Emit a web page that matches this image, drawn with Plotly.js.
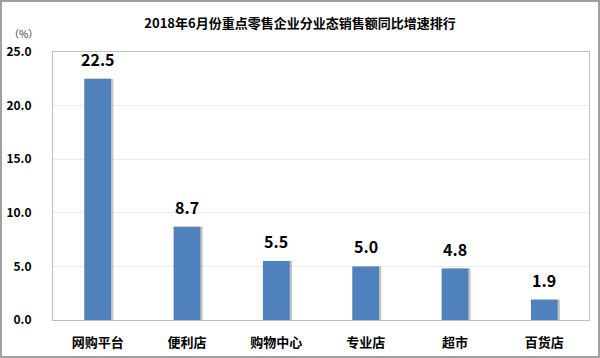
<!DOCTYPE html>
<html>
<head>
<meta charset="utf-8">
<script src="https://cdn.plot.ly/plotly-3.0.1.min.js"></script>
<style>
html,body{margin:0;padding:0;background:#fff;}
#wrap{position:relative;width:600px;height:358px;}
#chart{width:600px;height:358px;}
#frame{position:absolute;left:0;top:0;width:600px;height:358px;box-sizing:border-box;border:2px solid #a0a0a0;pointer-events:none;}
</style>
</head>
<body>
<div id="wrap"><div id="chart"></div><div id="frame"></div></div>
<script>
const categories = ["网购平台", "便利店", "购物中心", "专业店", "超市", "百货店"];
const growth = [22.5, 8.7, 5.5, 5.0, 4.8, 1.9];
const yTicks = [0, 5, 10, 15, 20, 25];
const yTickText = ["0.0", "5.0", "10.0", "15.0", "20.0", "25.0"];

const F = '"Noto Sans CJK SC", "Noto Sans", sans-serif';

const shadow = {
  type: 'bar', x: categories, y: growth,
  width: 0.30, offset: -0.15 + 0.025,
  marker: {color: 'rgba(110,110,110,0.4)', line: {width: 0}},
  hoverinfo: 'skip', showlegend: false
};
const bars = {
  type: 'bar', x: categories, y: growth,
  width: 0.30, offset: -0.15,
  marker: {color: '#4F81BD', line: {width: 0}},
  showlegend: false
};

const labels = categories.map((c, i) => ({
  x: c, y: growth[i], xref: 'x', yref: 'y',
  text: growth[i].toFixed(1), showarrow: false,
  yanchor: 'bottom', yshift: 6,
  font: {family: F, size: 16, color: '#000', weight: 'bold'}
}));

const layout = {
  width: 600, height: 358,
  margin: {l: 53, r: 11, t: 52, b: 38},
  paper_bgcolor: '#fff', plot_bgcolor: '#fff',
  barmode: 'overlay',
  title: {text: '2018年6月份重点零售企业分业态销售额同比增速排行',
          font: {family: F, size: 13, color: '#000', weight: 'bold'}, x: 0.5, xanchor: 'center', y: 0.935, yanchor: 'middle'},
  xaxis: {
    tickfont: {family: F, size: 13, color: '#000', weight: 'bold'},
    showline: true, linecolor: '#bfbfbf', linewidth: 1, mirror: true,
    showgrid: false, ticks: '', ticklabelstandoff: 10
  },
  yaxis: {
    range: [0, 25], tickvals: yTicks, ticktext: yTickText,
    tickfont: {family: F, size: 12, color: '#000', weight: 'bold'},
    showline: true, linecolor: '#bfbfbf', linewidth: 1, mirror: true,
    gridcolor: '#ececec', gridwidth: 1, zeroline: false,
    ticks: '', ticklabelstandoff: 18, fixedrange: true
  },
  annotations: [{
    text: '（%）', xref: 'paper', yref: 'paper', x: -0.085, y: 1.07,
    xanchor: 'left', yanchor: 'middle', showarrow: false,
    font: {family: F, size: 10, color: '#333'}
  }].concat(labels)
};

Plotly.newPlot('chart', [shadow, bars], layout, {displayModeBar: false, staticPlot: true});
</script>
</body>
</html>
